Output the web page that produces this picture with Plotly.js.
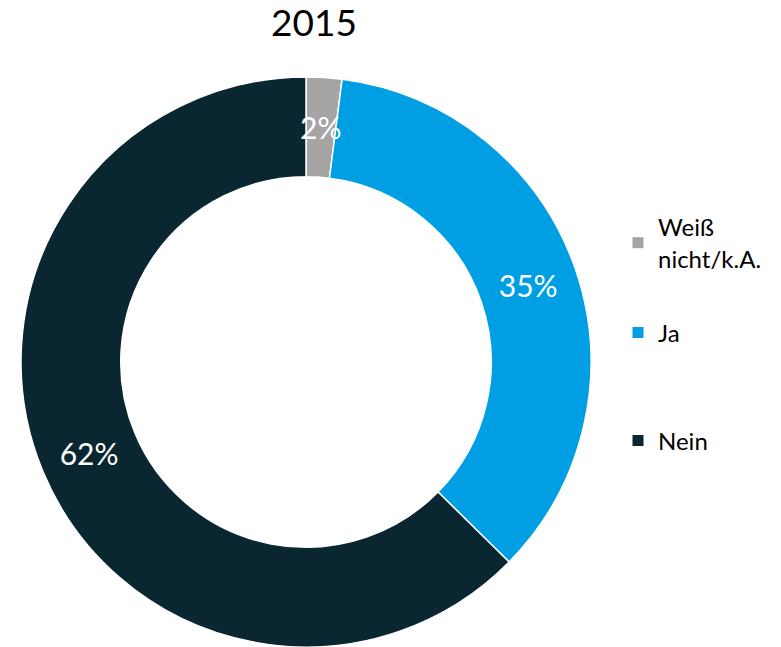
<!DOCTYPE html>
<html>
<head>
<meta charset="utf-8">
<script src="https://cdn.plot.ly/plotly-3.0.1.min.js"></script>
<style>html,body{margin:0;padding:0;background:#fff;}#chart{width:781px;height:647px;}</style>
</head>
<body>
<div id="chart"></div>
<script>
const title = "2015";
const categories = ["Weiß nicht/k.A.", "Ja", "Nein"];
const legendLabels = ["Weiß<br>nicht/k.A.", "Ja", "Nein"];
const values = [2, 35, 62];
const colors = ["#a5a5a5", "#009fe3", "#0a2630"];

const FONT = "Lato, 'Open Sans', sans-serif";
const W = 781, H = 647;
const HOLE = 0.65;
const TEXT_SIZE = 30;
const dom = { x: [21 / W, 591 / W], y: [0, 1 - 77 / H] };

// slices too small for Plotly's inside text get a label as annotation at the ring middle
const SMALL = 5;
const total = values.reduce((a, b) => a + b, 0);
const texts = values.map(v => v < SMALL ? "" : v + "%");

const pie = {
  type: "pie",
  labels: categories,
  values: values,
  text: texts,
  sort: false,
  direction: "clockwise",
  rotation: 0,
  hole: HOLE,
  marker: { colors: colors, line: { color: "#ffffff", width: 1.5 } },
  textinfo: "text",
  textposition: "inside",
  insidetextorientation: "horizontal",
  textfont: { color: "#ffffff", size: TEXT_SIZE, family: FONT },
  hoverinfo: "none",
  showlegend: false,
  domain: dom
};

// annotation positions derived from the data (same geometry Plotly uses)
const cxPx = (dom.x[0] + dom.x[1]) / 2 * W;
const cyPx = (1 - (dom.y[0] + dom.y[1]) / 2) * H;
const Rpx = Math.min((dom.x[1] - dom.x[0]) * W, (dom.y[1] - dom.y[0]) * H) / 2;
const rMid = Rpx * (1 + HOLE) / 2;
const annotations = [];
let cum = 0;
values.forEach((v, i) => {
  const mid = (cum + v / 2) / total * 2 * Math.PI;
  cum += v;
  if (v < SMALL) {
    const px = cxPx + rMid * Math.sin(mid);
    const py = cyPx - rMid * Math.cos(mid);
    annotations.push({
      xref: "paper", yref: "paper", x: px / W, y: 1 - py / H,
      xanchor: "center", yanchor: "middle", showarrow: false,
      text: v + "%", font: { color: "#ffffff", size: TEXT_SIZE, family: FONT }
    });
  }
});

const legendNames = ["legend", "legend2", "legend3"];
const legendTraces = categories.map((c, i) => ({
  type: "scatter",
  mode: "markers",
  x: [null], y: [null],
  name: legendLabels[i],
  marker: { symbol: "square", size: 11, color: colors[i] },
  legend: legendNames[i],
  showlegend: true,
  hoverinfo: "none"
}));

const legendY = [1 - 243 / H, 1 - 333 / H, 1 - 441 / H];
const layout = {
  width: W, height: H,
  margin: { l: 0, r: 0, t: 0, b: 0 },
  paper_bgcolor: "#ffffff", plot_bgcolor: "#ffffff",
  font: { family: FONT, color: "#000000" },
  title: {
    text: title,
    font: { size: 37, family: FONT, color: "#000000" },
    x: 314 / W, xanchor: "center", xref: "paper",
    y: 1 - 23 / H, yanchor: "middle", yref: "container"
  },
  xaxis: { visible: false, domain: [0.99, 1] },
  yaxis: { visible: false, domain: [0.99, 1] },
  annotations: annotations,
  showlegend: true
};
legendNames.forEach((n, i) => {
  layout[n] = {
    x: 618 / W, xanchor: "left",
    y: legendY[i], yanchor: "middle",
    font: { size: 24, family: FONT, color: "#000000" },
    bgcolor: "rgba(0,0,0,0)", borderwidth: 0,
    itemclick: false, itemdoubleclick: false
  };
});

Plotly.newPlot("chart", [pie, ...legendTraces], layout, { displayModeBar: false, staticPlot: true });
</script>
</body>
</html>
